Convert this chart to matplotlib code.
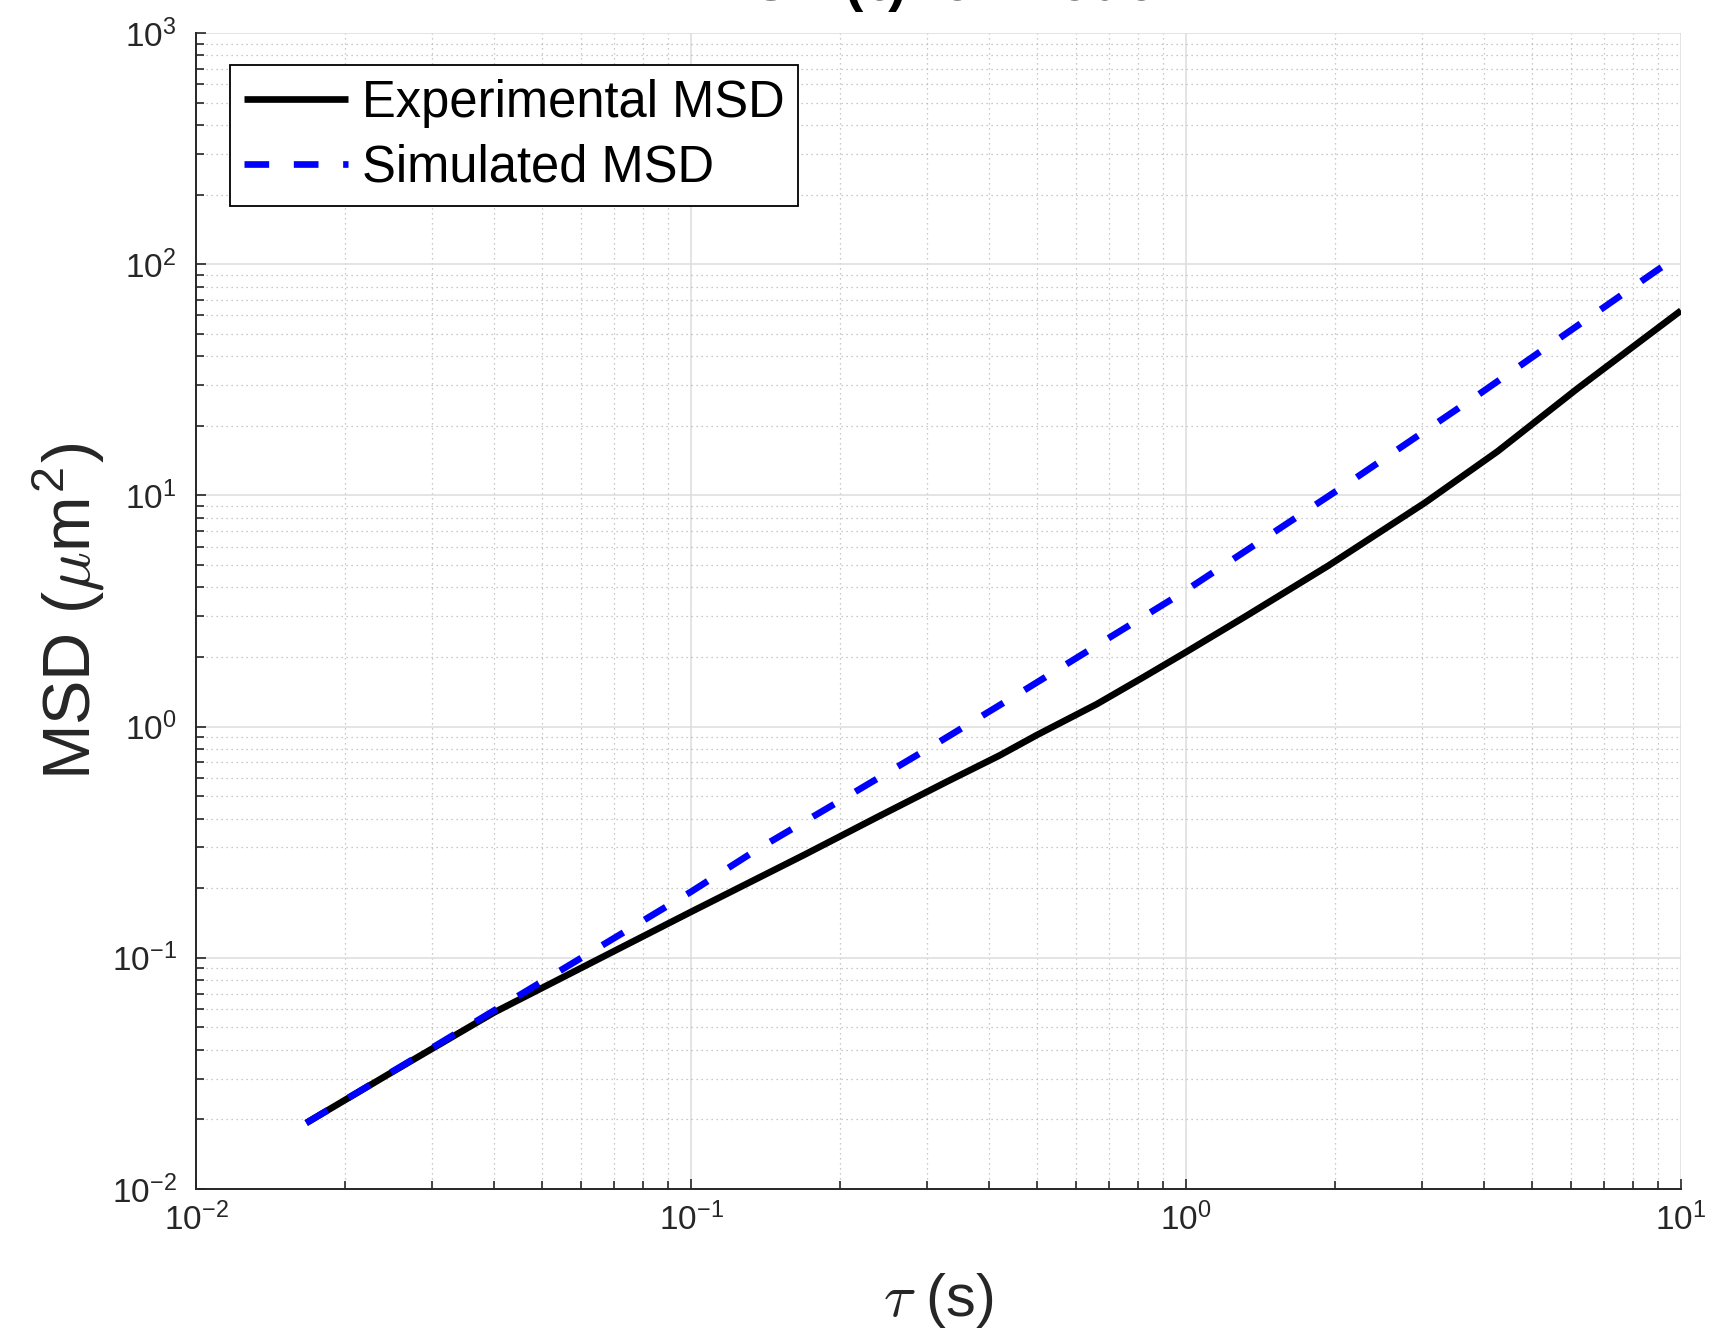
import numpy as np
import matplotlib
matplotlib.use("Agg")
import matplotlib.pyplot as plt
from matplotlib.ticker import LogLocator, NullFormatter, LogFormatterSciNotation

plt.rcParams['font.family'] = ['Liberation Sans', 'DejaVu Sans']
plt.rcParams['axes.unicode_minus'] = False

# ---- data ----
tau_exp = [0.0167, 0.025, 0.04, 0.07, 0.1, 0.17, 0.24, 0.33, 0.42, 0.5,
           0.66, 0.83, 1.0, 1.32, 1.94, 3.04, 4.26, 6.18, 10.0]
msd_exp = [0.0193, 0.0322, 0.058, 0.107, 0.158, 0.28, 0.41, 0.58, 0.75, 0.92,
           1.25, 1.66, 2.1, 3.0, 4.97, 9.3, 15.5, 29.0, 63.0]

tau_sim = [0.0167, 0.03, 0.1, 0.136, 0.207, 0.314, 0.477, 0.723, 0.977,
           2.10, 3.89, 9.02, 10.0]
msd_sim = [0.0193, 0.0408, 0.193, 0.294, 0.499, 0.847, 1.46, 2.53, 3.76,
           11.1, 27.2, 95.3, 110.0]

labels = ["Experimental MSD", "Simulated MSD"]
title_text = "MSD (τ) for Model"

W, H = 1710, 1337
fig = plt.figure(figsize=(W / 100, H / 100), dpi=100)
ax = fig.add_axes([196 / W, 1 - 1189 / H, (1681 - 196) / W, (1189 - 33) / H])

ax.plot(tau_exp, msd_exp, color='black', lw=4.8, solid_capstyle='butt',
        label=labels[0], zorder=3)
ax.plot(tau_sim, msd_sim, color='#0000ff', lw=4.8, dashes=(3.7, 3.7),
        dash_capstyle='butt', label=labels[1], zorder=4)

ax.set_xscale('log')
ax.set_yscale('log')
ax.set_xlim(1e-2, 1e1)
ax.set_ylim(1e-2, 1e3)

ax.xaxis.set_major_locator(LogLocator(base=10, numticks=20))
ax.yaxis.set_major_locator(LogLocator(base=10, numticks=20))
ax.xaxis.set_minor_locator(LogLocator(base=10, subs=np.arange(2, 10), numticks=100))
ax.yaxis.set_minor_locator(LogLocator(base=10, subs=np.arange(2, 10), numticks=100))
ax.xaxis.set_minor_formatter(NullFormatter())
ax.yaxis.set_minor_formatter(NullFormatter())
ax.xaxis.set_major_formatter(LogFormatterSciNotation())
ax.yaxis.set_major_formatter(LogFormatterSciNotation())

tc = '#262626'
ax.grid(True, which='major', color='#dcdcdc', lw=1.1, ls='-', zorder=0)
ax.grid(True, which='minor', color='#b8b8b8', lw=0.9, ls=(0, (1, 3)), zorder=0)
ax.set_axisbelow(True)

for s in ['top', 'right']:
    ax.spines[s].set_visible(False)
for s in ['left', 'bottom']:
    ax.spines[s].set_color(tc)
    ax.spines[s].set_linewidth(1.4)

ax.tick_params(which='both', direction='in', colors=tc, width=1.2,
               labelsize=24, labelcolor=tc)
ax.tick_params(which='major', length=7)
ax.tick_params(which='minor', length=6)
ax.tick_params(axis='x', which='major', pad=10)
ax.tick_params(axis='y', which='major', pad=14)

ax.set_xlabel(r"$\tau$ (s)", fontsize=43, color=tc, labelpad=24,
              math_fontfamily='cm')
ax.set_ylabel(r"MSD ($\mu$m$^{\mathdefault{2}}$)", fontsize=48, color=tc,
              labelpad=3, math_fontfamily='cm')

leg = ax.legend(loc='upper left', bbox_to_anchor=(0.0229, 0.972), fontsize=36.5,
                frameon=True, fancybox=False, framealpha=1, edgecolor='black',
                handlelength=2.05, handletextpad=0.28, borderpad=0.27,
                labelspacing=0.3, borderaxespad=0)
leg.get_frame().set_linewidth(1.3)

fig.text(ax.get_position().x0 + ax.get_position().width / 2, 1.0,
         title_text, ha='center', va='baseline', fontsize=40,
         fontweight='bold', color='black')

fig.savefig("out.png", dpi=100)
